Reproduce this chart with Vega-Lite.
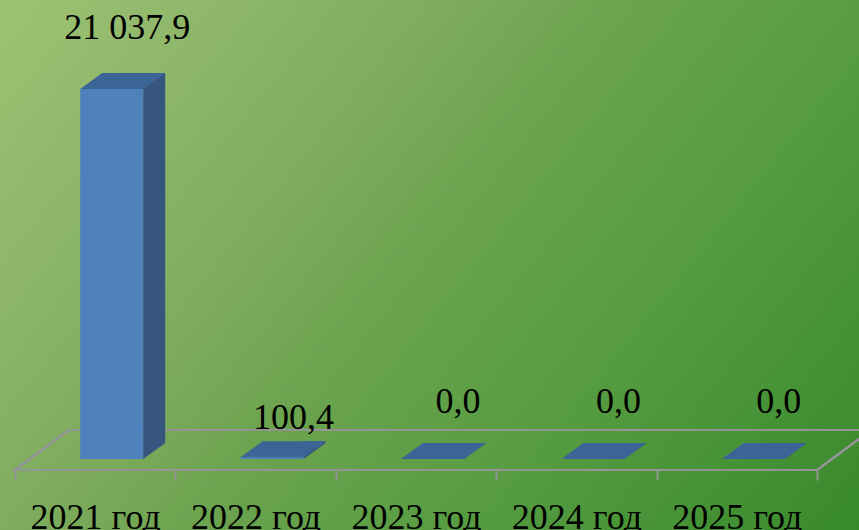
{
  "$schema": "https://vega.github.io/schema/vega-lite/v6.json",
  "width": 859,
  "height": 530,
  "autosize": {"type": "none"},
  "padding": 0,
  "background": "#6aa24d",
  "config": {
    "view": {
      "stroke": null,
      "fill": {
        "gradient": "linear",
        "x1": 0, "y1": 0, "x2": 1.2, "y2": 0.6,
        "stops": [
          {"offset": 0, "color": "#9ec274"},
          {"offset": 0.33, "color": "#80ad5f"},
          {"offset": 0.5, "color": "#6aa24d"},
          {"offset": 0.66, "color": "#5a9e44"},
          {"offset": 1, "color": "#388a2c"}
        ]
      }
    }
  },
  "data": {
    "values": [
      {"year": "2021 год", "value": 21037.9, "label": "21 037,9"},
      {"year": "2022 год", "value": 100.4, "label": "100,4"},
      {"year": "2023 год", "value": 0, "label": "0,0"},
      {"year": "2024 год", "value": 0, "label": "0,0"},
      {"year": "2025 год", "value": 0, "label": "0,0"}
    ]
  },
  "encoding": {
    "x": {
      "field": "year",
      "type": "nominal",
      "sort": null,
      "scale": {"type": "band", "range": [15, 817], "paddingInner": 0, "paddingOuter": 0},
      "axis": {
        "orient": "bottom",
        "offset": -60,
        "domain": false,
        "grid": false,
        "ticks": true,
        "tickBand": "extent",
        "tickColor": "#949494",
        "tickWidth": 2,
        "tickSize": 10,
        "labelFont": "Liberation Serif",
        "labelFontSize": 36,
        "labelColor": "#000000",
        "labelBaseline": "alphabetic",
        "labelPadding": 48,
        "labelOverlap": false,
        "labelAngle": 0,
        "title": null
      }
    }
  },
  "layer": [
    {
      "mark": {"type": "point", "shape": "M0,11L802,11L856,-29L54,-29Z", "size": 4, "filled": false, "stroke": "#949494", "strokeWidth": 2, "opacity": 1},
      "encoding": {
        "x": {"datum": "2021 год", "bandPosition": 0},
        "y": {"datum": 0, "type": "quantitative", "scale": {"domain": [-4037, 26098], "nice": false, "zero": false}, "axis": null}
      }
    },
    {
      "mark": {"type": "bar", "width": 63, "xOffset": 16.5, "color": "#4f81bd"},
      "encoding": {
        "y": {"field": "value", "type": "quantitative"},
        "y2": {"datum": 0}
      }
    },
    {
      "mark": {"type": "bar", "width": 22, "xOffset": 59, "yOffset": -16, "y2Offset": -16, "color": "#36557f"},
      "encoding": {
        "y": {"field": "value", "type": "quantitative"},
        "y2": {"datum": 0}
      }
    },
    {
      "mark": {"type": "point", "shape": "M63,0L63,-16L85,-16Z", "size": 4, "filled": true, "strokeWidth": 0, "opacity": 1, "xOffset": -15, "color": "#36557f"},
      "encoding": {
        "y": {"datum": 0, "type": "quantitative"}
      }
    },
    {
      "mark": {"type": "point", "shape": "M0,0L63,0L85,-16L22,-16Z", "size": 4, "filled": true, "strokeWidth": 0, "opacity": 1, "xOffset": -15, "color": "#3d6496"},
      "encoding": {
        "y": {"field": "value", "type": "quantitative"}
      }
    },
    {
      "transform": [{"filter": "datum.year === '2021 год'"}],
      "mark": {"type": "text", "font": "Liberation Serif", "fontSize": 36, "color": "#000000", "baseline": "alphabetic", "align": "center", "xOffset": 32, "yOffset": -50},
      "encoding": {
        "y": {"field": "value", "type": "quantitative"},
        "text": {"field": "label"}
      }
    },
    {
      "transform": [{"filter": "datum.year === '2022 год'"}],
      "mark": {"type": "text", "font": "Liberation Serif", "fontSize": 36, "color": "#000000", "baseline": "alphabetic", "align": "center", "xOffset": 38, "yOffset": -28},
      "encoding": {
        "y": {"field": "value", "type": "quantitative"},
        "text": {"field": "label"}
      }
    },
    {
      "transform": [{"filter": "datum.value === 0"}],
      "mark": {"type": "text", "font": "Liberation Serif", "fontSize": 36, "color": "#000000", "baseline": "alphabetic", "align": "center", "xOffset": 42, "yOffset": -46},
      "encoding": {
        "y": {"field": "value", "type": "quantitative"},
        "text": {"field": "label"}
      }
    }
  ]
}
